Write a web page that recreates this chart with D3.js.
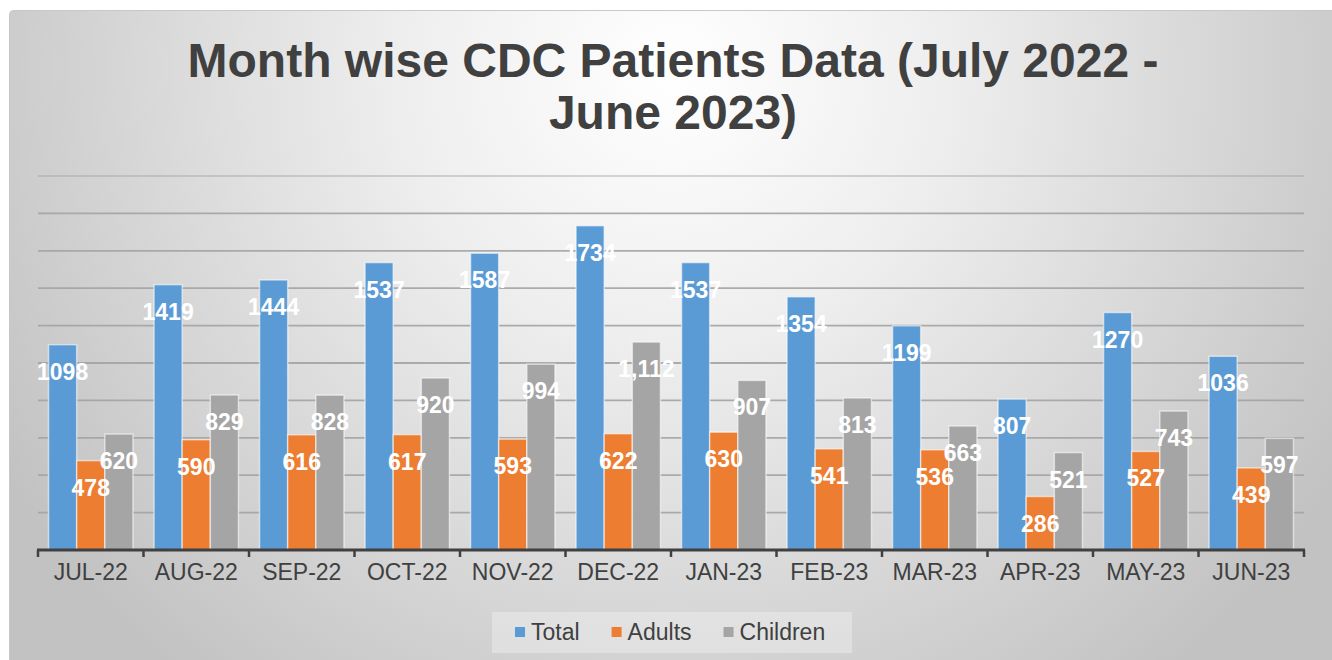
<!DOCTYPE html>
<html>
<head>
<meta charset="utf-8">
<script src="https://cdn.jsdelivr.net/npm/d3@7"></script>
<style>
	body { margin: 0; background: #ffffff; }
	svg { display: block; font-family: 'Liberation Sans', Arial, sans-serif; }
</style>
</head>
<body>
<svg id="chart" width="1332" height="660"></svg>
<script>
'use strict'

const months = ['JUL-22', 'AUG-22', 'SEP-22', 'OCT-22', 'NOV-22', 'DEC-22', 'JAN-23', 'FEB-23', 'MAR-23', 'APR-23', 'MAY-23', 'JUN-23']
const seriesNames = ['Total', 'Adults', 'Children']
const total = [1098, 1419, 1444, 1537, 1587, 1734, 1537, 1354, 1199, 807, 1270, 1036]
const adults = [478, 590, 616, 617, 593, 622, 630, 541, 536, 286, 527, 439]
const children = [620, 829, 828, 920, 994, 1112, 907, 813, 663, 521, 743, 597]
const gridTicks = [0, 200, 400, 600, 800, 1000, 1200, 1400, 1600, 1800, 2000]
const titleLines = ['Month wise CDC Patients Data (July 2022 -', 'June 2023)']

const seriesValues = {Total: total, Adults: adults, Children: children}
const seriesColors = d3.scaleOrdinal()
	.domain(seriesNames)
	.range(['#5B9BD5', '#ED7D31', '#A5A5A5'])
const labelFormat = {Total: d3.format('d'), Adults: d3.format('d'), Children: d3.format(',')}

const width = 1332
const height = 660
const plot = {left: 38, right: 1304, top: 176, bottom: 550}
const textColor = '#404040'

const svg = d3.select('#chart')

// background with radial shade
const defs = svg.append('defs')
const grad = defs.append('radialGradient')
	.attr('id', 'bg')
	.attr('gradientUnits', 'userSpaceOnUse')
	.attr('cx', 672)
	.attr('cy', 70)
	.attr('r', 780)
grad.append('stop').attr('offset', 0).attr('stop-color', '#ffffff')
grad.append('stop').attr('offset', 0.35).attr('stop-color', '#eeeeee')
grad.append('stop').attr('offset', 1).attr('stop-color', '#c2c2c2')

svg.append('rect')
	.attr('x', 9.5)
	.attr('y', 10.5)
	.attr('width', width + 20)
	.attr('height', height + 20)
	.attr('rx', 4)
	.attr('fill', 'url(#bg)')
	.attr('stroke', '#c8c8c8')

// title
svg.append('g')
	.selectAll('text')
	.data(titleLines)
	.enter()
	.append('text')
	.attr('x', 673)
	.attr('y', (d, i) => 77 + i * 52)
	.attr('text-anchor', 'middle')
	.attr('font-size', 48)
	.attr('font-weight', 'bold')
	.attr('fill', textColor)
	.text((d) => d)

// scales
const x0 = d3.scaleBand()
	.domain(months)
	.range([plot.left, plot.right])
	.paddingInner(0.2)
	.paddingOuter(0.1)

const x1 = d3.scaleBand()
	.domain(seriesNames)
	.range([0, x0.bandwidth()])

const y = d3.scaleLinear()
	.domain([0, 2000])
	.range([plot.bottom, plot.top])

// gridlines
svg.append('g')
	.selectAll('line')
	.data(gridTicks.slice(1))
	.enter()
	.append('line')
	.attr('x1', plot.left)
	.attr('x2', plot.right)
	.attr('y1', (d) => y(d))
	.attr('y2', (d) => y(d))
	.attr('stroke', '#a3a3a3')
	.attr('stroke-opacity', (d) => d === 2000 ? 0.45 : 0.9)
	.attr('stroke-width', 1.8)

// bars
const rows = months.map((m, i) => {
	return {
		month: m,
		values: seriesNames.map((s) => {
			return {series: s, value: seriesValues[s][i]}
		})
	}
})

const groups = svg.append('g')
	.selectAll('g')
	.data(rows)
	.enter()
	.append('g')
	.attr('transform', (d) => `translate(${x0(d.month)},0)`)

groups.selectAll('rect')
	.data((d) => d.values)
	.enter()
	.append('rect')
	.attr('x', (d) => x1(d.series))
	.attr('y', (d) => y(d.value))
	.attr('width', x1.bandwidth())
	.attr('height', (d) => y(0) - y(d.value))
	.attr('fill', (d) => seriesColors(d.series))
	.attr('stroke', '#ffffff')
	.attr('stroke-opacity', 0.55)
	.attr('stroke-width', 1.5)

groups.selectAll('text')
	.data((d) => d.values)
	.enter()
	.append('text')
	.attr('x', (d) => x1(d.series) + x1.bandwidth() / 2)
	.attr('y', (d) => y(d.value) + 35)
	.attr('text-anchor', 'middle')
	.attr('font-size', 23)
	.attr('font-weight', 'bold')
	.attr('fill', '#ffffff')
	.text((d) => labelFormat[d.series](d.value))

// x axis
const axis = svg.append('g')
	.attr('transform', `translate(0,${plot.bottom})`)
	.call(d3.axisBottom(x0).tickSize(0).tickPadding(14))

axis.select('.domain').remove()
axis.selectAll('text')
	.attr('font-size', 23)
	.attr('font-family', 'Liberation Sans, Arial, sans-serif')
	.attr('fill', textColor)

const step = x0.step()
const boundaries = d3.range(months.length + 1).map((i) => plot.left + i * step)

axis.selectAll('.boundary')
	.data(boundaries)
	.enter()
	.append('line')
	.attr('class', 'boundary')
	.attr('x1', (d) => d)
	.attr('x2', (d) => d)
	.attr('y1', 0)
	.attr('y2', 7)
	.attr('stroke', textColor)
	.attr('stroke-width', 2.5)

axis.append('line')
	.attr('x1', plot.left - 1)
	.attr('x2', plot.right + 1)
	.attr('y1', 0)
	.attr('y2', 0)
	.attr('stroke', textColor)
	.attr('stroke-width', 3)

// legend
const legend = svg.append('g')

legend.append('rect')
	.attr('x', 492)
	.attr('y', 612)
	.attr('width', 360)
	.attr('height', 41)
	.attr('fill', '#ffffff')
	.attr('fill-opacity', 0.3)

let lx = 515
seriesNames.forEach((s) => {
	legend.append('rect')
		.attr('x', lx)
		.attr('y', 627)
		.attr('width', 10)
		.attr('height', 10)
		.attr('fill', seriesColors(s))
	const t = legend.append('text')
		.attr('x', lx + 16)
		.attr('y', 640)
		.attr('font-size', 23)
		.attr('fill', textColor)
		.text(s)
	lx += 16 + t.node().getComputedTextLength() + 32
})
</script>
</body>
</html>
